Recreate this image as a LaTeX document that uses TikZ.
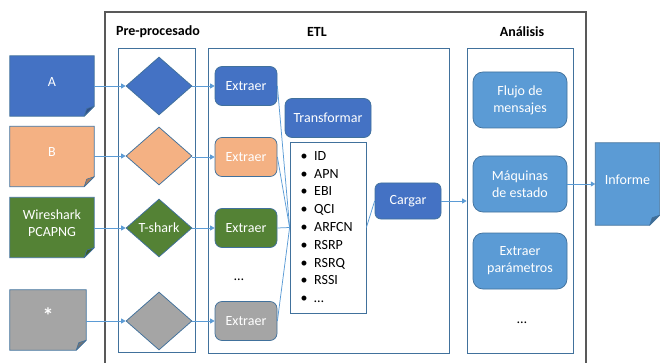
\documentclass[tikz,border=0pt]{standalone}
\usepackage{fontspec}
\setmainfont{Carlito}
\usetikzlibrary{shapes.geometric,arrows.meta,backgrounds}
\definecolor{cblue}{HTML}{4472C4}
\definecolor{corange}{HTML}{F4B183}
\definecolor{cgreen}{HTML}{548235}
\definecolor{cgray}{HTML}{A5A5A5}
\definecolor{clight}{HTML}{5B9BD5}
\definecolor{cline}{HTML}{41719C}
\definecolor{cframe}{HTML}{595959}
\newcommand\fs{\fontsize{14}{17}\selectfont}
\newcommand\drawdoc[3]{%
  \path[fill=#2, draw=cline, line width=0.75pt] (#1.north west) -- (#1.north east) -- ([yshift=10pt]#1.south east) -- ([xshift=-10pt]#1.south east) -- (#1.south west) -- cycle;
  \path[fill=#3, draw=cline, line width=0.6pt, line join=round] ([yshift=10pt]#1.south east) -- ([xshift=-10pt]#1.south east) -- ([xshift=-7.5pt,yshift=7.5pt]#1.south east) -- cycle;
}
\tikzset{
  doc/.style={rectangle, minimum width=84pt, minimum height=60pt, inner sep=0pt},
  doctext/.style={text=white, align=center, font=\fs, inner sep=0pt},
  dia/.style={diamond, draw=cline, line width=0.75pt, minimum width=66pt, minimum height=58pt, inner sep=0pt, text=white, font=\fs},
  rbox/.style={rectangle, rounded corners=7pt, draw=cline, line width=0.75pt, text=white, inner sep=0pt, font=\fs, align=center},
  abox/.style={rbox, fill=clight, rounded corners=10pt, minimum width=94pt, minimum height=56pt},
  ebox/.style={rbox, minimum width=62pt, minimum height=39pt},
  cont/.style={rectangle, draw=cline, line width=0.8pt, inner sep=0pt},
  conn/.style={draw=clight, line width=0.75pt},
  arr/.style={conn, -{Triangle[width=5pt,length=4.5pt]}},
  ttl/.style={font=\fs\bfseries, inner sep=0pt},
  item/.style={anchor=base west, font=\fs, inner sep=0pt},
  dots/.style={font=\fs, inner sep=0pt},
}
\begin{document}
\begin{tikzpicture}[x=1pt,y=-1pt]
\useasboundingbox (0,0) rectangle (660,363);
% outer frame
\draw[cframe, line width=1.2pt] (105,363) -- (105,12) -- (586,12) -- (586,363);
% titles
\node[ttl] (tpre) at (158,32) {Pre-procesado};
\node[ttl] (tetl) at (317,32) {ETL};
\node[ttl] (tan) at (522,32) {Análisis};
% containers
\node[cont, minimum width=77pt, minimum height=304pt] (pre) at (156.5,200) {};
\node[cont, minimum width=241pt, minimum height=305pt] (etl) at (328.5,200.5) {};
\node[cont, minimum width=106pt, minimum height=305pt] (an) at (520,200.5) {};
% documents
\node[doc] (docA) at (52,86) {};
\node[doc] (docB) at (52,156.5) {};
\node[doc] (docW) at (52,227.5) {};
\node[doc, minimum width=76pt] (docS) at (48,320) {};
\node[doc, minimum width=64pt, minimum height=82pt] (inf) at (627.5,184) {};
\begin{scope}[on background layer]
\drawdoc{docA}{cblue}{cblue!70!black}
\drawdoc{docB}{corange}{corange!70!black}
\drawdoc{docW}{cgreen}{cgreen!70!black}
\drawdoc{docS}{cgray}{cgray!70!black}
\drawdoc{inf}{clight}{clight!70!black}
\end{scope}
\node[doctext] (lA) at ([yshift=4pt]docA.center) {A};
\node[doctext] (lB) at ([yshift=4pt]docB.center) {B};
\node[doctext] (lW) at ([yshift=4pt]docW.center) {Wireshark\\PCAPNG};
\node[doctext, font=\fontsize{22}{22}\selectfont\bfseries] (lS) at ([yshift=4.5pt]docS.center) {*};
\node[doctext] (lI) at ([yshift=4pt]inf.center) {Informe};
% diamonds
\node[dia, fill=cblue] (dA) at (159,86) {};
\node[dia, fill=corange] (dB) at (159,156) {};
\node[dia, fill=cgreen] (dW) at (159,228) {T-shark};
\node[dia, fill=cgray] (dS) at (159,321) {};
% extraer
\node[ebox, fill=cblue] (eA) at (246,86) {Extraer};
\node[ebox, fill=corange] (eB) at (246,157) {Extraer};
\node[ebox, fill=cgreen] (eW) at (246,228) {Extraer};
\node[ebox, fill=cgray] (eS) at (246,321) {Extraer};
\node[dots] (edots) at (239,280) {…};
% transformar, list, cargar
\node[rbox, fill=cblue, minimum width=86pt, minimum height=39pt] (tr) at (328,118) {Transformar};
\node[rectangle, draw=cline, line width=0.75pt, minimum width=76pt, minimum height=171pt, inner sep=0pt] (list) at (328,227.5) {};
\foreach \t [count=\i from 0] in {ID,APN,EBI,QCI,ARFCN,RSRP,RSRQ,RSSI,…}
  \node[item] (li\i) at (300.5,{160.5+17.75*\i}) {\makebox[13.5pt][l]{•}\t};
\node[rbox, fill=cblue, rounded corners=6pt, minimum width=66pt, minimum height=36pt] (cg) at (408,201) {Cargar};
% analisis
\node[abox] (fl) at (520,100) {Flujo de\\mensajes};
\node[abox] (mq) at (520,184) {Máquinas\\de estado};
\node[abox] (ep) at (520,261) {Extraer\\parámetros};
\node[dots] (adots) at (522,323) {…};
% connectors
\draw[arr] (docA.east |- dA.west) -- (dA.west);
\draw[arr] (docB.east |- dB.west) -- (dB.west);
\draw[arr] (docW.east |- dW.west) -- (dW.west);
\draw[arr] (docS.east |- dS.west) -- (dS.west);
\draw[arr] (dA.east) -- (eA.west);
\draw[arr] (dB.east |- eB.west) -- (eB.west);
\draw[arr] (dW.east) -- (eW.west);
\draw[arr] (dS.east) -- (eS.west);
\draw[conn] (eA.east) -- (list.west);
\draw[conn] (eB.east) -- (list.west);
\draw[conn] (eW.east) -- (list.west);
\draw[conn] (eS.east) -- (list.west);
\draw[conn] (list.east) -- (cg.west);
\draw[arr] (cg.east) -- (cg.east -| an.west);
\draw[arr] (mq.east) -- (mq.east -| inf.west);
\end{tikzpicture}
\end{document}
